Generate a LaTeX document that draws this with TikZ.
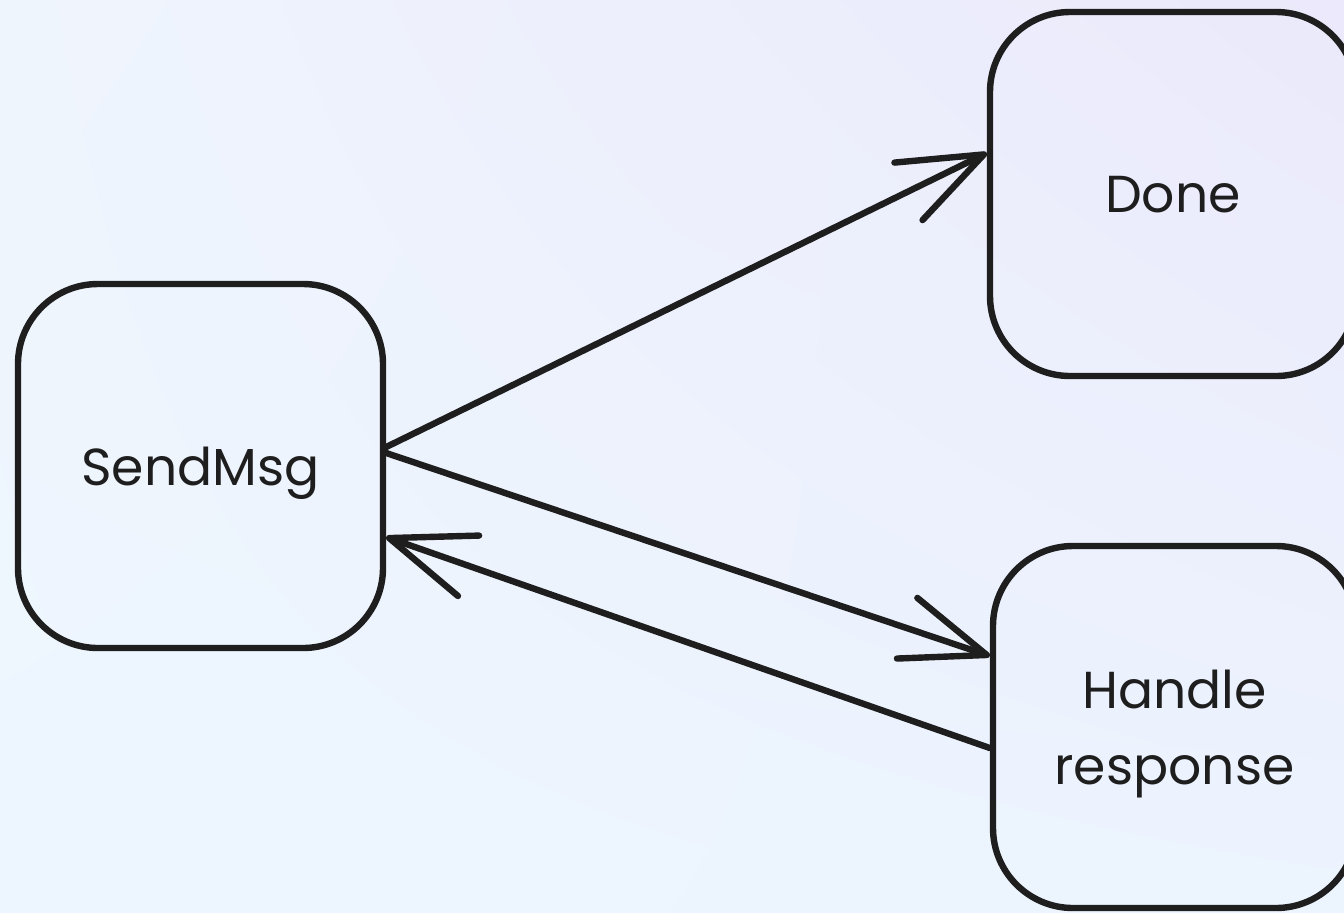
\documentclass[tikz,border=0pt]{standalone}
\usepackage{fontspec}
\setmainfont{Poppins}
\usetikzlibrary{arrows.meta,shadings}
\definecolor{ink}{HTML}{1E1E1E}
\definecolor{bgUL}{HTML}{EFF5FD}
\definecolor{bgUR}{HTML}{EBE9FB}
\definecolor{bgLL}{HTML}{EDF6FE}
\definecolor{bgLR}{HTML}{ECF4FE}
\begin{document}
\begin{tikzpicture}[x=0.5pt,y=-0.5pt,
  statebox/.style={draw=ink, line width=3.2pt, rounded corners=40pt,
    inner sep=0pt, text depth=0pt, font=\fontsize{26}{38}\selectfont, text=ink, align=center},
  flow/.style={draw=ink, line width=3.2pt, line cap=round, line join=round,
    -{Straight Barb[length=42pt,width=32pt,round]}}]
  % canvas
  \useasboundingbox (0,0) rectangle (1344,912);
  \shade[upper left=bgUL, upper right=bgUR, lower left=bgLL, lower right=bgLR]
    (0,0) rectangle (1344,912);

  % states
  \node[statebox, minimum width=182.5pt, minimum height=182pt] (send) at (200.5,466) {SendMsg};
  \node[statebox, minimum width=183pt, minimum height=182pt] (done) at (1173,194) {Done};
  \node[statebox, minimum width=181.5pt, minimum height=181pt] (handle) at (1174.5,727) {Handle\\response};

  % transitions
  \draw[flow] ([yshift=9.5pt]send.east) -- ([yshift=20.5pt]done.west);
  \draw[flow] ([yshift=6.5pt]send.east) -- ([yshift=35.5pt]handle.west);
  \draw[flow] ([yshift=-10.5pt]handle.west) -- ([yshift=-35.5pt]send.east);
\end{tikzpicture}
\end{document}
